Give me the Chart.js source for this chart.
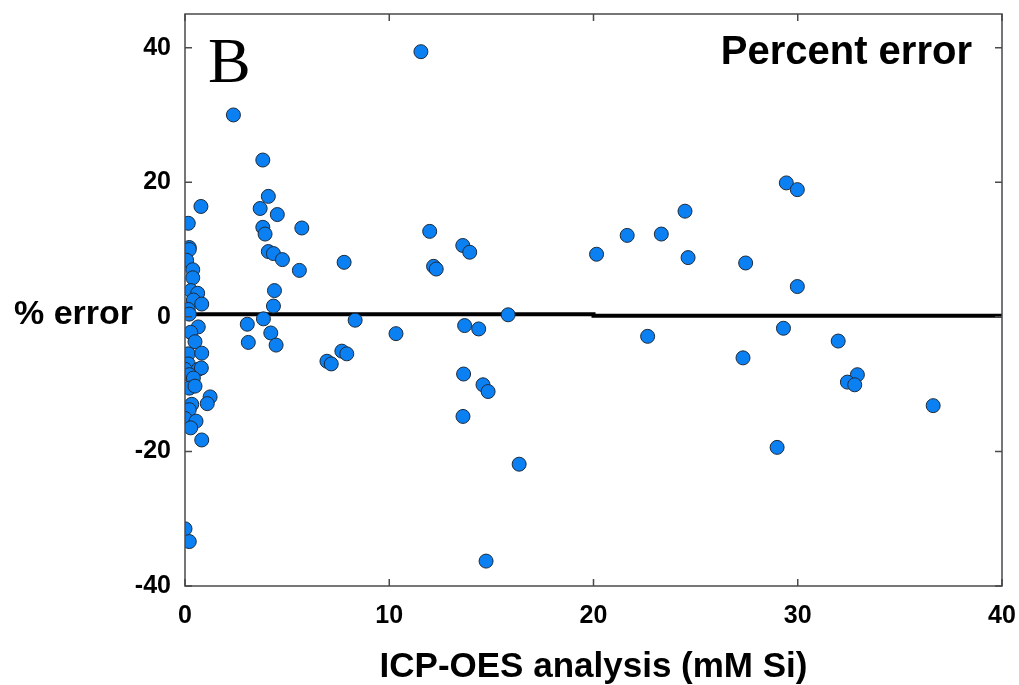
<!DOCTYPE html>
<html lang="en">
<head>
    <meta charset="UTF-8">
    <title>Percent error</title>
    <script src="https://cdn.jsdelivr.net/npm/chart.js"></script>
    <style>
        html, body { margin: 0; padding: 0; background: #fff; }
        #wrap { position: relative; width: 1019px; height: 685px; }
    </style>
</head>
<body>
    <div id="wrap"><canvas id="errChart"></canvas></div>
    <script>
        // ICP-OES concentration (mM Si) and percent error
        const siConc = [
            0.78, 0.16, 0.21, 0.21, 0.08, 0.38, 0.38, 0.29, 0.62, 0.41, 0.82, 0.16, 0.21,
            0.65, 0.28, 0.49, 0.16, 0.82, 0.16, 0.00, 0.65, 0.80, 0.21, 0.41, 0.21, 0.49,
            1.23, 1.09, 0.33, 0.21, 0.00, 0.54, 0.28, 0.82, 0.00, 0.21,
            2.37, 3.81, 4.08, 3.68, 4.52, 3.81, 3.92, 5.72, 4.08, 4.33, 4.77, 5.60, 7.79,
            4.38, 4.33, 3.05, 3.84, 4.20, 3.10, 4.46, 6.95, 7.16, 7.68, 7.92, 8.33, 10.33,
            11.55, 11.98, 13.60, 13.94, 12.17, 12.30, 13.69, 14.38, 15.82, 13.64, 14.59, 14.84,
            13.61, 16.36, 14.74,
            20.15, 21.65, 23.32, 24.48, 24.63, 22.65, 27.45, 27.32, 29.44, 29.98, 29.98, 29.30,
            28.99, 31.98, 32.92, 32.43, 32.79, 36.63
        ];
        const pctError = [
            16.4, 13.9, 10.3, 10.0, 8.4, 7.0, 5.8, 3.9, 3.5, 2.5, 1.9, 1.1, 0.4,
            -1.5, -2.3, -3.7, -5.5, -5.4, -7.0, -7.8, -7.8, -7.6, -8.6, -9.1, -10.6, -10.3,
            -11.9, -12.9, -13.0, -13.8, -15.1, -15.5, -16.5, -18.3, -31.5, -33.4,
            30.0, 23.3, 17.9, 16.1, 15.2, 13.3, 12.3, 13.2, 9.7, 9.4, 8.5, 6.9, 8.1,
            3.9, 1.6, -1.1, -0.3, -2.4, -3.8, -4.2, -6.6, -7.0, -5.1, -5.5, -0.5, -2.5,
            39.4, 12.7, 10.6, 9.6, 7.5, 7.1, -1.3, -1.8, 0.3, -8.5, -10.1, -11.1,
            -14.8, -21.9, -36.3,
            9.3, 12.1, 12.3, 15.7, 8.8, -2.9, 8.0, -6.1, 19.9, 18.9, 4.5, -1.7,
            -19.4, -3.6, -8.6, -9.7, -10.1, -13.2
        ];
        // zero reference line (drawn in two pieces in the original)
        const zeroLineX = [0, 20, 20, 40];
        const zeroLineY = [0.4, 0.4, 0.15, 0.15];

        const xTicks = [0, 10, 20, 30, 40];
        const yTicks = [-40, -20, 0, 20, 40];
        const xRange = [0, 40];
        const yRange = [-40, 45];

        const points = siConc.map((x, i) => ({ x: x, y: pctError[i] }));
        const zeroLine = zeroLineX.map((x, i) => ({ x: x, y: zeroLineY[i] }));

        const BOLD = '"Liberation Sans", Arial, sans-serif';

        // frame, inward tick marks and the loose labels
        const framePlugin = {
            id: 'frame',
            afterDraw(chart) {
                const { ctx, chartArea: a, scales } = chart;
                ctx.save();
                ctx.strokeStyle = '#4a4a4a';
                ctx.lineWidth = 1.5;
                ctx.strokeRect(a.left, a.top, a.right - a.left, a.bottom - a.top);
                ctx.beginPath();
                xTicks.forEach(v => {
                    const px = scales.x.getPixelForValue(v);
                    ctx.moveTo(px, a.bottom); ctx.lineTo(px, a.bottom - 7);
                    ctx.moveTo(px, a.top); ctx.lineTo(px, a.top + 7);
                });
                yTicks.forEach(v => {
                    const py = scales.y.getPixelForValue(v);
                    ctx.moveTo(a.left, py); ctx.lineTo(a.left + 7, py);
                    ctx.moveTo(a.right, py); ctx.lineTo(a.right - 7, py);
                });
                ctx.stroke();

                ctx.fillStyle = '#000';
                ctx.textBaseline = 'alphabetic';
                ctx.font = '64px "Liberation Serif", "Times New Roman", serif';
                ctx.textAlign = 'left';
                ctx.fillText('B', a.left + 23, 82);

                ctx.font = 'bold 40px ' + BOLD;
                ctx.textAlign = 'right';
                ctx.fillText('Percent error', a.right - 30, 64);

                ctx.font = 'bold 34px ' + BOLD;
                ctx.textAlign = 'left';
                ctx.textBaseline = 'middle';
                ctx.fillText('% error', 14, scales.y.getPixelForValue(0) - 2);
                ctx.restore();
            }
        };

        new Chart(document.getElementById('errChart'), {
            type: 'scatter',
            data: {
                datasets: [
                    {
                        type: 'line',
                        data: zeroLine,
                        borderColor: '#000',
                        borderWidth: 4,
                        pointRadius: 0,
                        fill: false,
                        order: 2
                    },
                    {
                        data: points,
                        backgroundColor: '#0a80f2',
                        borderColor: '#1d2b3c',
                        borderWidth: 1,
                        pointRadius: 7,
                        order: 1
                    }
                ]
            },
            options: {
                responsive: true,
                maintainAspectRatio: false,
                animation: false,
                layout: { padding: { top: 14, right: 17, left: 0, bottom: 0 } },
                plugins: { legend: { display: false }, tooltip: { enabled: false } },
                scales: {
                    x: {
                        type: 'linear',
                        min: xRange[0], max: xRange[1],
                        afterFit: s => { s.height = 99; s.paddingLeft = 0; s.paddingRight = 0; },
                        afterBuildTicks: s => { s.ticks = xTicks.map(v => ({ value: v })); },
                        grid: { display: false },
                        border: { display: false },
                        ticks: { color: '#000', padding: 7, font: { family: BOLD, size: 25, weight: 'bold' } },
                        title: {
                            display: true,
                            text: 'ICP-OES analysis (mM Si)',
                            color: '#000',
                            padding: { top: 0, bottom: -3 },
                            font: { family: BOLD, size: 35, weight: 'bold' }
                        }
                    },
                    y: {
                        min: yRange[0], max: yRange[1],
                        afterFit: s => { s.width = 185; s.paddingTop = 0; s.paddingBottom = 0; },
                        afterBuildTicks: s => { s.ticks = yTicks.map(v => ({ value: v })); },
                        grid: { display: false },
                        border: { display: false },
                        ticks: { color: '#000', padding: 6, font: { family: BOLD, size: 25, weight: 'bold' } }
                    }
                }
            },
            plugins: [framePlugin]
        });
    </script>
</body>
</html>
